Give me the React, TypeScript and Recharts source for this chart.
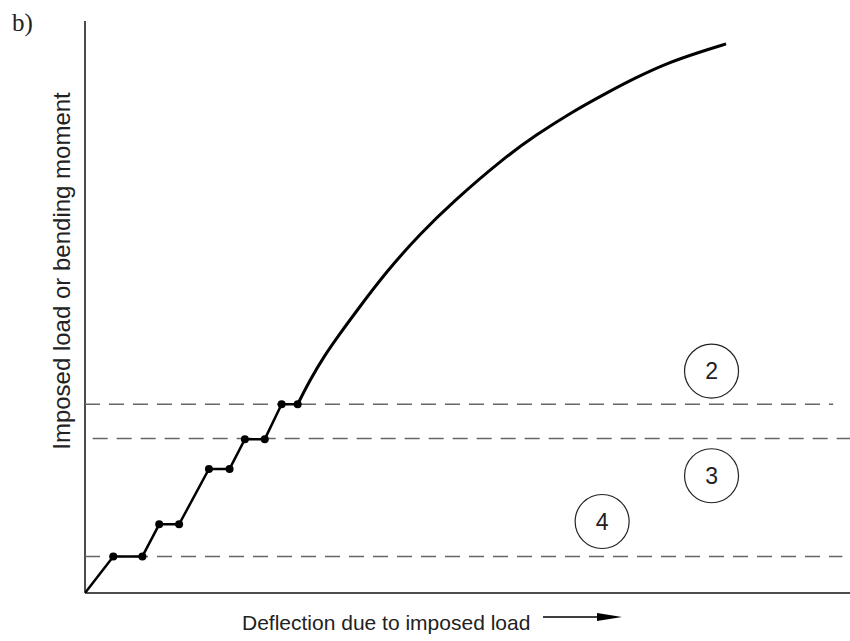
import { LineChart, Line, XAxis, YAxis, ReferenceLine, ReferenceDot } from 'recharts';

// staircase: elastic start then plastic hinge plateaus
const stepX = [0, 3.7, 7.5, 9.7, 12.3, 16.2, 18.9, 20.9, 23.5, 25.7, 27.8];
const stepY = [0, 6.4, 6.4, 12.0, 12.0, 21.7, 21.7, 26.9, 26.9, 33.0, 33.0];

// upper curve after last hinge
const curveX = [27.8, 29.4, 31.2, 33.3, 35.5, 39.4, 43.8, 48.1, 54.7, 59.0, 63.4, 68.4, 72.0, 76.0, 80.4, 83.8];
const curveY = [33.0, 37.2, 41.3, 45.3, 49.3, 56.2, 62.8, 68.4, 76.0, 80.1, 83.9, 87.6, 90.1, 92.6, 94.6, 96.0];

// dashed limit lines: level, start, end
const limitLevels = [33.0, 27.0, 6.4];
const limitStart = [0, 1.0, 0];
const limitEnd = [97.8, 100, 99];

// circled markers
const markerNames = ['2', '3', '4'];
const markerX = [81.9, 81.9, 67.6];
const markerY = [38.8, 20.5, 12.5];

const stepData = stepX.map((x, i) => ({ x, y: stepY[i] }));
const curveData = curveX.map((x, i) => ({ x, y: curveY[i] }));

const StepDot = (props: any) => {
  const { cx, cy, index } = props;
  if (index === 0) return <g key={`d-${index}`} />;
  return <circle key={`d-${index}`} cx={cx} cy={cy} r={4} fill="#000" />;
};

export default function App() {
  return (
    <div style={{ position: 'absolute', left: 0, top: 0, background: '#fff' }}>
      <LineChart width={850} height={641} margin={{ top: 21, right: 0, bottom: 48, left: 85 }}>
        <XAxis type="number" dataKey="x" domain={[0, 100]} hide allowDataOverflow />
        <YAxis type="number" dataKey="y" domain={[0, 100]} hide allowDataOverflow />

        {/* axes */}
        <ReferenceLine segment={[{ x: 0, y: 0 }, { x: 0, y: 100 }]} stroke="#111" strokeWidth={1.5} />
        <ReferenceLine segment={[{ x: 0, y: 0 }, { x: 100, y: 0 }]} stroke="#111" strokeWidth={1.5} />

        {limitLevels.map((lv, i) => (
          <ReferenceLine
            key={`lim-${i}`}
            segment={[{ x: limitStart[i], y: lv }, { x: limitEnd[i], y: lv }]}
            stroke="#666"
            strokeWidth={1.5}
            strokeDasharray="15 9"
          />
        ))}

        <Line
          data={stepData}
          dataKey="y"
          type="linear"
          stroke="#000"
          strokeWidth={2.5}
          dot={StepDot}
          activeDot={false}
          isAnimationActive={false}
        />
        <Line
          data={curveData}
          dataKey="y"
          type="basis"
          stroke="#000"
          strokeWidth={3}
          dot={false}
          activeDot={false}
          isAnimationActive={false}
        />

        {markerNames.map((m, i) => (
          <ReferenceDot
            key={`m-${m}`}
            x={markerX[i]}
            y={markerY[i]}
            r={27}
            fill="none"
            stroke="#222"
            strokeWidth={1.2}
            label={{ value: m, position: 'center', fontSize: 23, fill: '#222', fontFamily: 'Liberation Sans, Arial, sans-serif' }}
          />
        ))}

        <text x={12} y={31} fontSize={25} fontFamily="Liberation Serif, serif" fill="#222">b)</text>
        <text
          x={70}
          y={271}
          transform="rotate(-90, 70, 271)"
          textAnchor="middle"
          fontSize={24}
          fontFamily="Liberation Sans, Arial, sans-serif"
          fill="#222"
        >
          Imposed load or bending moment
        </text>
        <text x={242} y={630} fontSize={21} fontFamily="Liberation Sans, Arial, sans-serif" fill="#222">
          Deflection due to imposed load
        </text>
        <line x1={543} y1={617} x2={600} y2={617} stroke="#000" strokeWidth={1.4} />
        <polygon points="597,613 622,617 597,621" fill="#000" />
      </LineChart>
    </div>
  );
}
